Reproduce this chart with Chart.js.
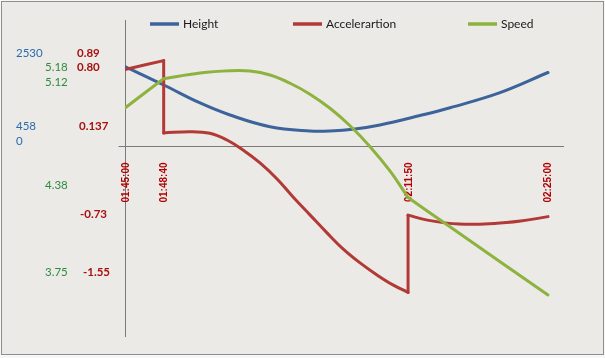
<!DOCTYPE html>
<html><head><meta charset="utf-8">
<script src="https://cdn.jsdelivr.net/npm/chart.js@4/dist/chart.umd.min.js"></script>
<style>html,body{margin:0;padding:0;background:#f7f7f7;overflow:hidden}canvas{display:block}</style>
</head><body>
<canvas id="c" width="605" height="358"></canvas>
<script>
// ---- data (time in seconds after 01:45:00) ----
const seriesNames = ['Height', 'Accelerartion', 'Speed'];
const tickTimes = [0, 220, 1610, 2400];
const tickLabels = ['01:45:00', '01:48:40', '02:11:50', '02:25:00'];

const heightTimes  = [0, 220, 427, 597, 825, 1052, 1166, 1308, 1450, 1678, 1849, 2133, 2406];
const heightValues = [2530, 1950, 1382, 1003, 634, 498, 498, 562, 688, 987, 1233, 1707, 2344];

const accelTimes  = [0, 220, 220, 370, 483, 580, 671, 768, 865, 956, 1052, 1149, 1240, 1337, 1433, 1524, 1610, 1610, 1720, 1900, 2100, 2250, 2406];
const accelValues = [0.70, 0.79, 0.06, 0.073, 0.057, -0.011, -0.112, -0.243, -0.405, -0.587, -0.767, -0.949, -1.11, -1.252, -1.373, -1.474, -1.55, -0.77, -0.82, -0.86, -0.855, -0.83, -0.785];

const speedTimes  = [0, 220, 427, 597, 711, 825, 939, 1052, 1166, 1280, 1394, 1507, 1610, 1832, 2406];
const speedValues = [4.945, 5.13, 5.166, 5.18, 5.178, 5.153, 5.101, 5.032, 4.943, 4.833, 4.701, 4.548, 4.38, 4.208, 3.765];

const heightLabels = ['2530', '458', '0'];
const speedLabels  = ['5.18', '5.12', '4.38', '3.75'];
const accelLabels  = ['0.89', '0.80', '0.137', '-0.73', '-1.55'];

// ---- styles ----
const COLORS = { Height: '#3C639A', Accelerartion: '#B23A36', Speed: '#8DB23E' };
const LABEL_COLORS = { h: '#2A6BAE', s: '#2E8B3C', a: '#A80F0F' };

function pts(ts, vs, from, to) {
  const out = [];
  for (let i = from; i <= to; i++) out.push({ x: ts[i], y: vs[i] });
  return out;
}
// times at which acceleration jumps (repeated time stamps)
const jumpTimes = accelTimes.filter((t, i) => i > 0 && t === accelTimes[i - 1]);

const baseLine = { pointRadius: 0, borderWidth: 3, fill: false, borderCapStyle: 'round', borderJoinStyle: 'round' };
const datasets = [];

function addSeries(name, ts, vs, axis, order, breaks) {
  let start = 0, first = true;
  const add = (a, b, smooth) => {
    if (b <= a) return;
    datasets.push(Object.assign({}, baseLine, {
      label: first ? name : '', data: pts(ts, vs, a, b),
      borderColor: COLORS[name], yAxisID: axis, order: order,
      tension: smooth ? 0.4 : 0
    }));
    first = false;
  };
  for (let i = 1; i < ts.length; i++) {
    if (ts[i] === ts[i - 1]) {           // vertical jump
      add(start, i - 1, true);
      add(i - 1, i, false);
      start = i;
    } else if (breaks.indexOf(ts[i]) >= 0 && i < ts.length - 1) { // corner
      add(start, i, true);
      start = i;
    }
  }
  add(start, ts.length - 1, true);
}
addSeries('Height', heightTimes, heightValues, 'y', 3, []);
addSeries('Accelerartion', accelTimes, accelValues, 'yA', 2, []);
addSeries('Speed', speedTimes, speedValues, 'yS', 1, jumpTimes);

const decor = {
  id: 'decor',
  beforeDraw(chart) {
    const c = chart.ctx;
    c.save();
    c.fillStyle = '#f7f7f7'; c.fillRect(0, 0, chart.width, chart.height);
    c.fillStyle = '#ECEAE7'; c.fillRect(1, 1, 603, 354);
    c.strokeStyle = '#8e8e8e'; c.lineWidth = 1; c.strokeRect(1.5, 1.5, 602, 353);
    c.restore();
  },
  beforeDatasetsDraw(chart) {
    const { ctx, chartArea: a, scales } = chart;
    const x0 = Math.round(scales.x.getPixelForValue(0)) + 0.5;
    const y0 = Math.round(scales.y.getPixelForValue(0)) - 0.5;
    ctx.save();
    ctx.strokeStyle = '#7a7a7a'; ctx.lineWidth = 1;
    ctx.beginPath();
    ctx.moveTo(x0, a.top); ctx.lineTo(x0, a.bottom);
    ctx.moveTo(x0 - 7, y0); ctx.lineTo(a.right, y0);
    ctx.stroke();
    // time tick labels, rotated
    ctx.fillStyle = '#B00000';
    ctx.font = 'bold 10px "Liberation Sans", Arial, sans-serif';
    ctx.textAlign = 'right'; ctx.textBaseline = 'middle';
    tickTimes.forEach((t, i) => {
      const px = scales.x.getPixelForValue(t);
      ctx.save();
      ctx.translate(px + 1, y0 + 16);
      ctx.rotate(-Math.PI / 2);
      ctx.fillText(tickLabels[i], 0, 0);
      ctx.restore();
    });
    ctx.restore();
  },
  afterDraw(chart) {
    const ctx = chart.ctx;
    ctx.save();
    ctx.textBaseline = 'middle'; ctx.textAlign = 'left';
    // side value labels
    const hPos = [[16, 53], [16, 126], [16, 141]];
    const sPos = [[45, 67], [45, 82], [45, 185], [45, 272]];
    const aPos = [[77, 53], [77, 67], [79, 126], [80, 214], [83, 272]];
    ctx.font = '11.5px Lato, "Open Sans", sans-serif';
    ctx.fillStyle = LABEL_COLORS.h;
    heightLabels.forEach((t, i) => ctx.fillText(t, hPos[i][0], hPos[i][1]));
    ctx.fillStyle = LABEL_COLORS.s;
    speedLabels.forEach((t, i) => ctx.fillText(t, sPos[i][0], sPos[i][1]));
    ctx.font = 'bold 11.5px Lato, "Open Sans", sans-serif';
    ctx.fillStyle = LABEL_COLORS.a;
    accelLabels.forEach((t, i) => ctx.fillText(t, aPos[i][0], aPos[i][1]));
    // legend
    const legX = [150, 293, 468];
    const legY = 24;
    ctx.font = '12px Lato, "Open Sans", sans-serif';
    seriesNames.forEach((name, i) => {
      ctx.strokeStyle = COLORS[name]; ctx.lineWidth = 3.5; ctx.lineCap = 'butt';
      ctx.beginPath(); ctx.moveTo(legX[i], legY); ctx.lineTo(legX[i] + 29, legY); ctx.stroke();
      ctx.fillStyle = '#1a1a1a';
      ctx.fillText(name, legX[i] + 33, legY);
    });
    ctx.restore();
  }
};

new Chart(document.getElementById('c'), {
  type: 'line',
  data: { datasets },
  options: {
    responsive: false,
    animation: false,
    layout: { padding: { left: 125, right: 41, top: 20, bottom: 21 } },
    plugins: { legend: { display: false }, tooltip: { enabled: false } },
    scales: {
      x: { type: 'linear', min: 0, max: 2497, display: false },
      y: { type: 'linear', min: -6000, max: 4000, display: false },
      yA: { type: 'linear', min: -2, max: 1.2, display: false },
      yS: { type: 'linear', min: 3.5, max: 5.5, display: false }
    }
  },
  plugins: [decor]
});
</script>
</body></html>
